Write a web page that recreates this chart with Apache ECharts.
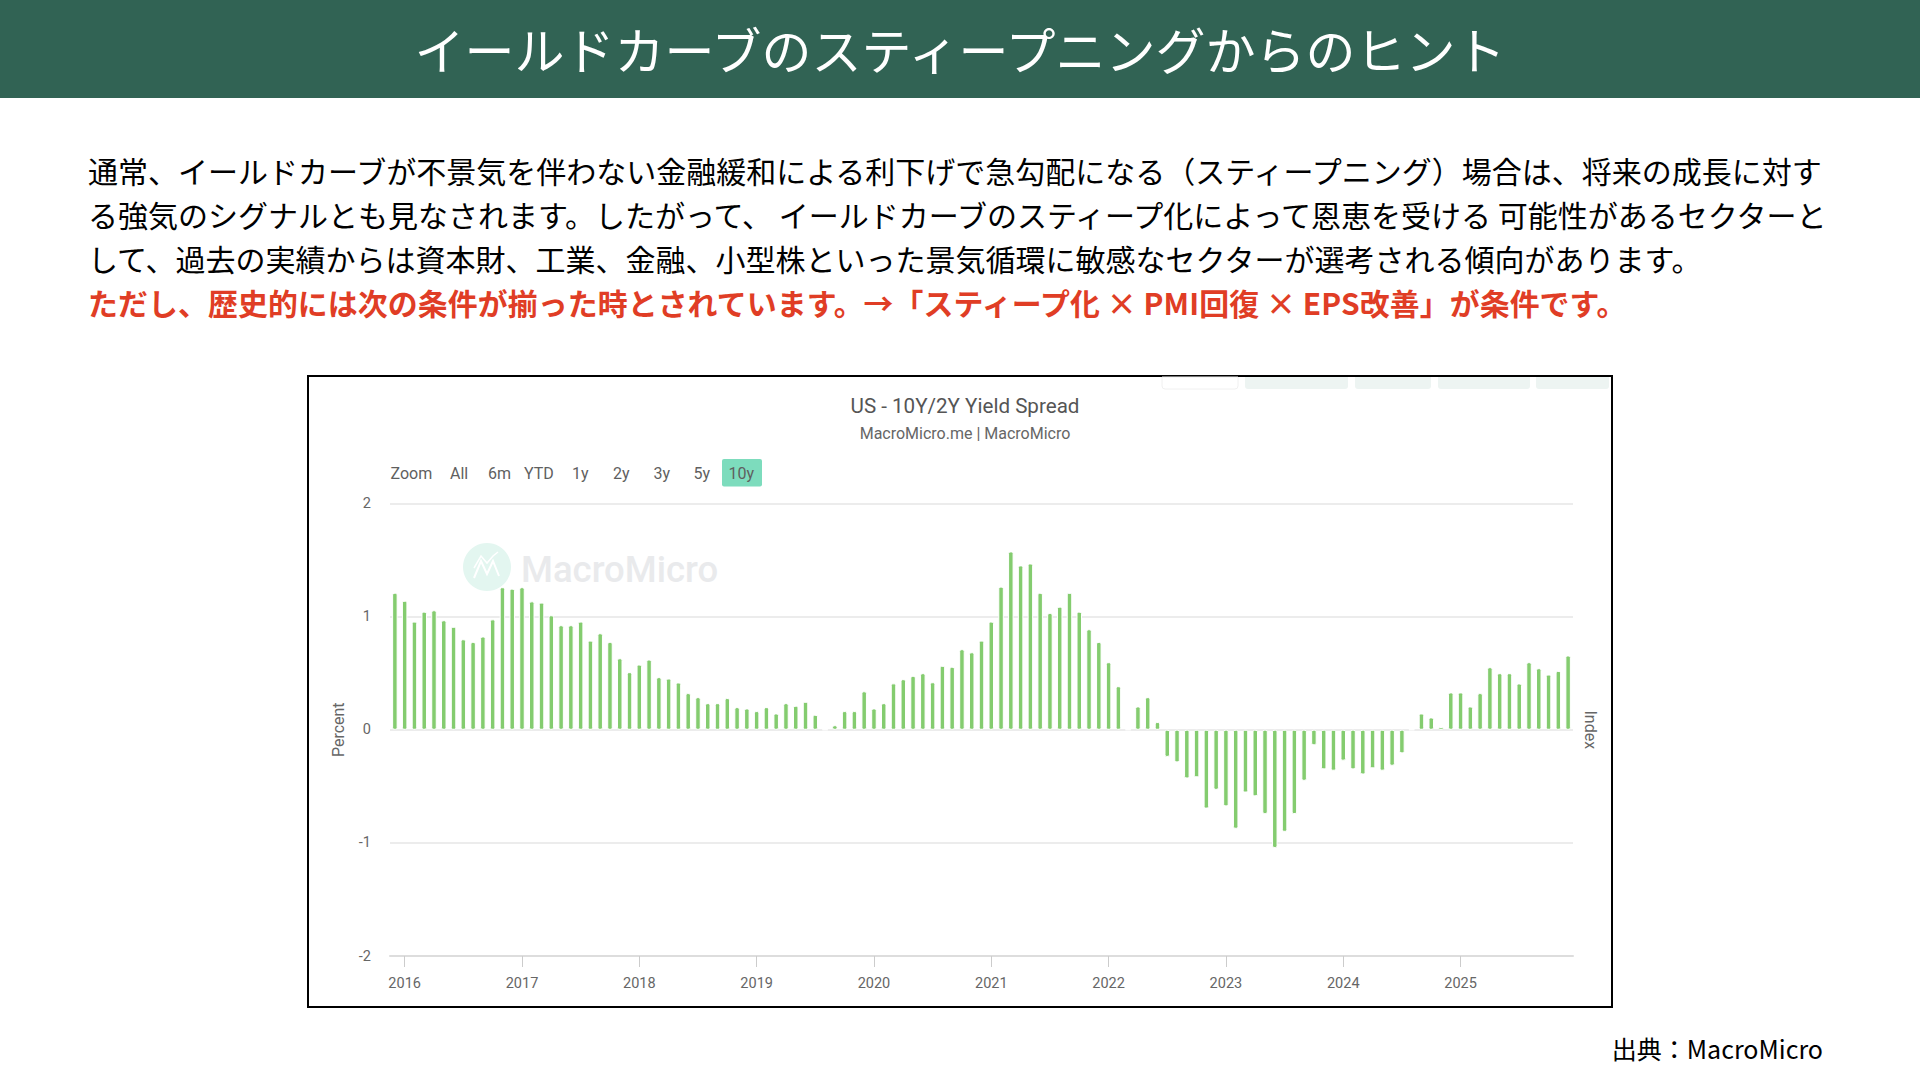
<!DOCTYPE html>
<html lang="ja">
<head>
<meta charset="utf-8">
<title>イールドカーブのスティープニングからのヒント</title>
<script src="https://cdn.jsdelivr.net/npm/echarts@6/dist/echarts.min.js"></script>
<style>
html,body{margin:0;padding:0;width:1920px;height:1080px;background:#fff;overflow:hidden;font-family:"Noto Sans CJK JP",sans-serif;}
#header{position:absolute;left:0;top:0;width:1920px;height:98px;background:#316354;color:#fff;font-size:50px;line-height:96px;text-align:center;}
.line{position:absolute;left:88px;white-space:nowrap;font-size:30px;line-height:44px;color:#000;}
.red{color:#e03d25;font-weight:700;font-size:29.9px;letter-spacing:0.09px;}
#frame{position:absolute;left:307px;top:375px;width:1301.5px;height:628.5px;border:2.5px solid #000;}
#chart{position:absolute;left:0;top:0;width:1920px;height:1080px;}
#source{position:absolute;right:97px;top:1027.5px;font-size:25px;line-height:40px;color:#000;}
</style>
</head>
<body>
<div id="header">イールドカーブのスティープニングからのヒント</div>
<div class="line" style="top:147.5px">通常、イールドカーブが不景気を伴わない金融緩和による利下げで急勾配になる（スティープニング）場合は、将来の成長に対す</div>
<div class="line" style="top:191.5px">る強気のシグナルとも見なされます。したがって、 イールドカーブのスティープ化によって恩恵を受ける 可能性があるセクターと</div>
<div class="line" style="top:235.5px">して、過去の実績からは資本財、工業、金融、小型株といった景気循環に敏感なセクターが選考される傾向があります。</div>
<div class="line red" style="top:279.5px">ただし、歴史的には次の条件が揃った時とされています。→「スティープ化 × PMI回復 × EPS改善」が条件です。</div>
<div id="frame"></div>
<div id="chart"></div>
<div id="source">出典：MacroMicro</div>
<script>
const chartTitle = 'US - 10Y/2Y Yield Spread';
const chartSubtitle = 'MacroMicro.me | MacroMicro';
const rangeLabels = ['Zoom','All','6m','YTD','1y','2y','3y','5y','10y'];
const yTicks = {min:-2, max:2, interval:1};
const years = [2016,2017,2018,2019,2020,2021,2022,2023,2024,2025];
const monthNames = ['01','02','03','04','05','06','07','08','09','10','11','12'];
const months = ['2015-12'].concat(years.flatMap(y => monthNames.map(m => y + '-' + m)));
const spread2016 = [1.21,1.14,0.956,1.044,1.056,0.968,0.91,0.80,0.776,0.824,0.976,1.26,1.247];
const spread2017 = [1.26,1.135,1.124,1.012,0.924,0.924,0.956,0.788,0.853,0.776,0.632,0.509,0.576];
const spread2018 = [0.62,0.465,0.453,0.418,0.324,0.288,0.235,0.235,0.28,0.2,0.188,0.165];
const spread2019 = [0.2,0.144,0.235,0.212,0.247,0.132,0,0.04,0.165,0.165,0.34,0.188];
const spread2020 = [0.235,0.41,0.447,0.476,0.5,0.42,0.565,0.556,0.712,0.685,0.788,0.956];
const spread2021 = [1.265,1.576,1.453,1.47,1.21,1.032,1.088,1.21,1.044,0.888,0.776,0.597];
const spread2022 = [0.385,0,0.206,0.288,0.068,-0.24,-0.288,-0.43,-0.42,-0.697,-0.531,-0.677];
const spread2023 = [-0.875,-0.555,-0.588,-0.745,-1.045,-0.902,-0.745,-0.451,-0.136,-0.35,-0.362,-0.273];
const spread2024 = [-0.35,-0.395,-0.341,-0.362,-0.318,-0.208,0,0.144,0.109,0.024,0.33,0.33];
const spread2025 = [0.206,0.324,0.553,0.5,0.5,0.409,0.597,0.544,0.488,0.52,0.656];
const spread = [].concat(spread2016,spread2017,spread2018,spread2019,spread2020,spread2021,spread2022,spread2023,spread2024,spread2025);
const recession = ['2020-02','2020-05'];

const labelFont = 'Roboto';
const grey = '#666666';
const isJan = (i, v) => v.endsWith('-01');
const rangeX = [390.5,450,488,524,572,613,653.5,693.5,728.5];

const chart = echarts.init(document.getElementById('chart'), null, {renderer:'svg', width:1920, height:1080});
chart.setOption({
  animation:false,
  backgroundColor:'transparent',
  title:[
    {text:chartTitle,left:960,top:390,textAlign:'center',textStyle:{fontFamily:labelFont,fontSize:20.6,fontWeight:400,color:'#555555'}},
    {text:chartSubtitle,left:960,top:420,textAlign:'center',textStyle:{fontFamily:labelFont,fontSize:16,fontWeight:400,color:grey}}
  ],
  grid:{left:390,top:503.5,width:1183,height:452.5,containLabel:false},
  xAxis:{
    type:'category',data:months,boundaryGap:true,
    axisLine:{onZero:false,lineStyle:{color:'#dddddd',width:2}},
    axisTick:{show:true,interval:isJan,alignWithLabel:true,length:11,lineStyle:{color:'#cccccc'}},
    axisLabel:{interval:isJan,formatter:v=>v.slice(0,4),margin:20,color:grey,fontFamily:labelFont,fontSize:14.5},
    splitLine:{show:false}
  },
  yAxis:[
    {type:'value',min:yTicks.min,max:yTicks.max,interval:yTicks.interval,
     name:'Percent',nameLocation:'middle',nameGap:44,nameRotate:90,
     nameTextStyle:{color:grey,fontFamily:labelFont,fontSize:16},
     axisLine:{show:false},axisTick:{show:false},
     axisLabel:{margin:19,color:grey,fontFamily:labelFont,fontSize:14.5},
     splitLine:{lineStyle:{color:'#e6e6e6',width:1.5}}},
    {type:'value',position:'right',min:yTicks.min,max:yTicks.max,interval:yTicks.interval,
     name:'Index',nameLocation:'middle',nameGap:9,nameRotate:-90,
     nameTextStyle:{color:grey,fontFamily:labelFont,fontSize:16},
     axisLine:{show:false},axisTick:{show:false},axisLabel:{show:false},splitLine:{show:false}}
  ],
  series:[{
    name:chartTitle,type:'bar',data:spread,barWidth:5.5,z:3,
    itemStyle:{color:'#84cc6f',borderColor:'#ffffff',borderWidth:1,borderRadius:1.5},
    markArea:{silent:true,z:1,itemStyle:{color:'#f2f2f2'},
      data:[[{xAxis:recession[0]},{xAxis:recession[1]}]]}
  }],
  graphic:[
    {type:'circle',z:0,shape:{cx:487,cy:567,r:24},style:{fill:'#e3f6f0'}},
    {type:'polyline',z:0,shape:{points:[[474,578],[481,561],[487,574],[493,561],[499,576]]},style:{stroke:'#ffffff',lineWidth:2,fill:null}},
    {type:'polyline',z:0,shape:{points:[[474,568],[481,556],[487,563],[493,556],[498,552]]},style:{stroke:'#ffffff',lineWidth:1.5,fill:null}},
    {type:'text',z:0,style:{x:521,y:569,text:'MacroMicro',fill:'#e9eaec',font:'500 36.5px Roboto',verticalAlign:'middle'}},
    {type:'rect',z:0,shape:{x:1162,y:377,width:76,height:12,r:[0,0,3,3]},style:{fill:'#ffffff',stroke:'#f0f0f0',lineWidth:1}},
    {type:'rect',z:0,shape:{x:1245,y:377,width:103,height:12,r:[0,0,3,3]},style:{fill:'#edf4f2'}},
    {type:'rect',z:0,shape:{x:1355,y:377,width:76,height:12,r:[0,0,3,3]},style:{fill:'#edf4f2'}},
    {type:'rect',z:0,shape:{x:1438,y:377,width:92,height:12,r:[0,0,3,3]},style:{fill:'#edf4f2'}},
    {type:'rect',z:0,shape:{x:1536,y:377,width:73,height:12,r:[0,0,3,3]},style:{fill:'#edf4f2'}},
    {type:'rect',z:0,shape:{x:722,y:459,width:40,height:27.5,r:2},style:{fill:'#7ddcbd'}}
  ].concat(rangeLabels.map((t,i)=>({type:'text',z:1,style:{x:rangeX[i],y:473,text:t,fill:'#5f5f5f',font:'16px Roboto',verticalAlign:'middle'}})))
});
</script>
</body>
</html>
